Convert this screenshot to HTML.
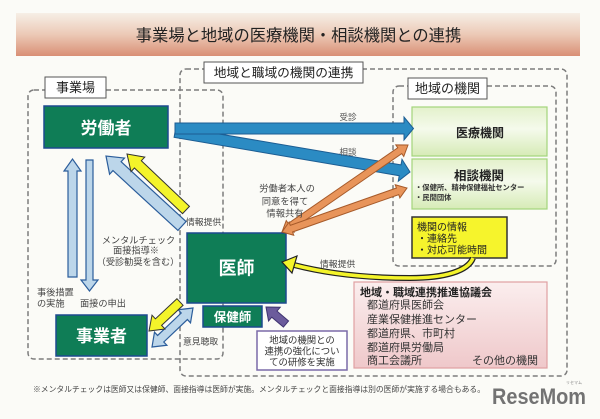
<!DOCTYPE html>
<html lang="ja">
<head>
<meta charset="utf-8">
<style>
  html,body{margin:0;padding:0;background:#fbfbf7;}
  svg{display:block;}
  text{font-family:"Liberation Sans","Noto Sans CJK JP",sans-serif;}
</style>
</head>
<body>
<svg width="600" height="419" viewBox="0 0 600 419" xmlns="http://www.w3.org/2000/svg">
  <defs>
    <linearGradient id="tg" x1="0" y1="0" x2="0" y2="1">
      <stop offset="0" stop-color="#f6efe6"/>
      <stop offset="0.5" stop-color="#ecc9b6"/>
      <stop offset="1" stop-color="#d98f75"/>
    </linearGradient>
    <linearGradient id="gg" x1="0" y1="0" x2="0" y2="1">
      <stop offset="0" stop-color="#e3f1cb"/>
      <stop offset="0.45" stop-color="#f5faec"/>
      <stop offset="1" stop-color="#d6ebb6"/>
    </linearGradient>
    <linearGradient id="pg" x1="0" y1="0" x2="0" y2="1">
      <stop offset="0" stop-color="#fbeeee"/>
      <stop offset="1" stop-color="#efc8ca"/>
    </linearGradient>
  </defs>

  <rect x="0" y="0" width="600" height="419" fill="#fbfbf7"/>

  <!-- Title banner -->
  <rect x="16" y="13" width="564" height="43" fill="url(#tg)"/>
  <text x="298.5" y="41" font-size="16.3" fill="#222" text-anchor="middle">事業場と地域の医療機関・相談機関との連携</text>

  <!-- Dashed boxes -->
  <g fill="none" stroke="#7d7d7d" stroke-width="1.5" stroke-dasharray="5 3">
    <rect x="28" y="90" width="195" height="269" rx="6"/>
    <rect x="180" y="69" width="387" height="307" rx="6"/>
    <rect x="393" y="86" width="163" height="180" rx="6"/>
  </g>

  <!-- Label boxes -->
  <rect x="45" y="77" width="61" height="21" fill="#fff" stroke="#555" stroke-width="1"/>
  <text x="75.5" y="92" font-size="13" fill="#222" text-anchor="middle">事業場</text>
  <rect x="204" y="62" width="159" height="21" fill="#fff" stroke="#555" stroke-width="1"/>
  <text x="283.5" y="77" font-size="12.7" fill="#222" text-anchor="middle">地域と職域の機関の連携</text>
  <rect x="408" y="78" width="79" height="21" fill="#fff" stroke="#555" stroke-width="1"/>
  <text x="447.5" y="93" font-size="13" fill="#222" text-anchor="middle">地域の機関</text>

  <!-- Green boxes -->
  <g fill="#0f7d56" stroke="#1d4a8f" stroke-width="1.5">
    <rect x="44" y="106" width="124" height="42"/>
    <rect x="187" y="233" width="99" height="70"/>
    <rect x="56" y="315" width="91" height="41"/>
    <rect x="203" y="306" width="59" height="21"/>
  </g>
  <g fill="#fff" font-weight="bold" text-anchor="middle">
    <text x="106" y="134" font-size="17">労働者</text>
    <text x="236.5" y="274.5" font-size="18">医師</text>
    <text x="101.5" y="342" font-size="17">事業者</text>
    <text x="232.5" y="321.5" font-size="12.5">保健師</text>
  </g>

  <!-- Light green boxes -->
  <rect x="412" y="107" width="135" height="49" fill="url(#gg)" stroke="#a3d47c" stroke-width="1.2"/>
  <rect x="412" y="159" width="135" height="50" fill="url(#gg)" stroke="#a3d47c" stroke-width="1.2"/>
  <text x="480" y="137" font-size="12" font-weight="bold" fill="#222" text-anchor="middle">医療機関</text>
  <text x="479" y="180" font-size="12.5" font-weight="bold" fill="#222" text-anchor="middle">相談機関</text>
  <text x="415" y="190" font-size="7.3" font-weight="bold" fill="#333">・保健所、精神保健福祉センター</text>
  <text x="415" y="200" font-size="7.3" font-weight="bold" fill="#333">・民間団体</text>

  <!-- Yellow info box -->
  <rect x="412" y="217" width="95" height="41" fill="#f6f42c" stroke="#333" stroke-width="1.5"/>
  <text x="417" y="230.5" font-size="10" fill="#222">機関の情報</text>
  <text x="417" y="242" font-size="10" fill="#222">・連絡先</text>
  <text x="417" y="253.5" font-size="10" fill="#222">・対応可能時間</text>

  <!-- Pink box -->
  <rect x="354" y="282" width="193" height="86" fill="url(#pg)" stroke="#e0a0a2" stroke-width="1.2"/>
  <text x="360" y="296" font-size="11" font-weight="bold" fill="#222">地域・職域連携推進協議会</text>
  <g font-size="11" fill="#333">
    <text x="367" y="308.5">都道府県医師会</text>
    <text x="367" y="323">産業保健推進センター</text>
    <text x="367" y="337">都道府県、市町村</text>
    <text x="367" y="351">都道府県労働局</text>
    <text x="367" y="364">商工会議所</text>
    <text x="538" y="364" text-anchor="end">その他の機関</text>
  </g>

  <!-- Purple box -->
  <rect x="257" y="331" width="90" height="39" fill="#fff" stroke="#7b6aa8" stroke-width="1.5"/>
  <g font-size="9.4" fill="#333" text-anchor="middle">
    <text x="302" y="343.5">地域の機関との</text>
    <text x="302" y="354.5">連携の強化につい</text>
    <text x="302" y="365.5">ての研修を実施</text>
  </g>

  <!-- Blue arrows -->
  <g fill="#2b8bc3" stroke="#1c5d93" stroke-width="1">
    <polygon points="175.9,126.6 401,164.9 402,159.4 410,172 398.3,181.2 399.2,175.7 174.1,137.4"/>
    <polygon points="175,123 404,123 404,117 413.5,128.5 404,140 404,134 175,134"/>
  </g>

  <!-- Orange double arrows -->
  <g fill="#e8945a" stroke="#a65a2a" stroke-width="1">
    <polygon points="282,232 294.21,232.08 292.22,229.2 401.76,153.56 403.75,156.44 408,145 395.79,144.92 397.78,147.8 288.24,223.44 286.25,220.56"/>
    <polygon points="282,232 293.75,235.28 292.59,231.98 398.73,194.62 399.89,197.92 407,188 395.25,184.72 396.41,188.02 290.27,225.38 289.11,222.08"/>
  </g>

  <!-- Vertical light-blue arrows -->
  <g fill="#bcd6ea" stroke="#2b5d9b" stroke-width="1.2">
    <polygon points="68,277 68,171 64,171 72.5,159 81,171 77,171 77,277"/>
    <polygon points="86,160 93,160 93,280 98,280 89.5,291 81,280 86,280"/>
    <!-- mental check arrow -->
    <polygon points="186.07,221.58 121.11,161.75 124.5,158.07 106,156 109.58,174.27 112.97,170.59 177.93,230.42"/>
    <!-- 意見聴取 double arrow -->
    <polygon points="193,308 178.11,309.75 181.21,313.01 157.59,335.47 154.49,332.21 152,347 166.89,345.25 163.79,341.99 187.41,319.53 190.51,322.79"/>
  </g>

  <!-- Yellow arrows -->
  <g fill="#f4f42a" stroke="#333" stroke-width="1">
    <polygon points="189.45,206.37 141.34,160.71 144.78,157.08 127,154 131,171.6 134.44,167.97 182.55,213.63"/>
    <polygon points="176.92,298.71 155.42,318.82 152,315.17 149,331 165,329.05 161.58,325.4 183.08,305.29"/>
  </g>

  <!-- Purple arrow -->
  <polygon points="288.6,320.95 276.99,311.09 280.23,307.27 266,307 268.55,321.01 271.79,317.19 283.4,327.05" fill="#6b5b9c" stroke="#3e3370" stroke-width="1"/>

  <!-- Yellow curved arrow -->
  <path d="M 473 258 C 468 271, 445 278, 410 278 C 365 278, 325 273, 294 265" fill="none" stroke="#222" stroke-width="6"/>
  <path d="M 473 258 C 468 271, 445 278, 410 278 C 365 278, 325 273, 294 265" fill="none" stroke="#f4f42a" stroke-width="3.5"/>
  <polygon points="282,262 297,256 292,273" fill="#f4f42a" stroke="#222" stroke-width="1.2"/>

  <!-- Small labels -->
  <g font-size="8.6" fill="#555">
    <text x="348" y="120" text-anchor="middle">受診</text>
    <text x="348" y="155" text-anchor="middle">相談</text>
  </g>
  <g font-size="9.3" fill="#444" text-anchor="middle">
    <text x="287" y="191.5">労働者本人の</text>
    <text x="285" y="204.5">同意を得て</text>
    <text x="285" y="216.5">情報共有</text>
  </g>
  <g font-size="8.8" fill="#444">
    <text x="186" y="225">情報提供</text>
    <text x="320" y="267">情報提供</text>
    <text x="183" y="344.5">意見聴取</text>
  </g>
  <g font-size="9.2" fill="#444" text-anchor="middle">
    <text x="138.5" y="243.5">メンタルチェック</text>
    <text x="136" y="253.5">面接指導※</text>
    <text x="138" y="265">（受診勧奨を含む）</text>
  </g>
  <g font-size="9.2" fill="#444">
    <text x="37" y="295.5">事後措置</text>
    <text x="37" y="306.5">の実施</text>
    <text x="80" y="306.5">面接の申出</text>
  </g>

  <!-- Footnote -->
  <text x="33" y="392" font-size="7.8" fill="#444" textLength="452" lengthAdjust="spacingAndGlyphs">※メンタルチェックは医師又は保健師、面接指導は医師が実施。メンタルチェックと面接指導は別の医師が実施する場合もある。</text>

  <!-- Logo -->
  <text x="566" y="384" font-size="4" fill="#888">リセマム</text>
  <text x="492" y="404" font-size="22" font-weight="bold" fill="#737373" textLength="94" lengthAdjust="spacingAndGlyphs">ReseMom</text>
</svg>
</body>
</html>
